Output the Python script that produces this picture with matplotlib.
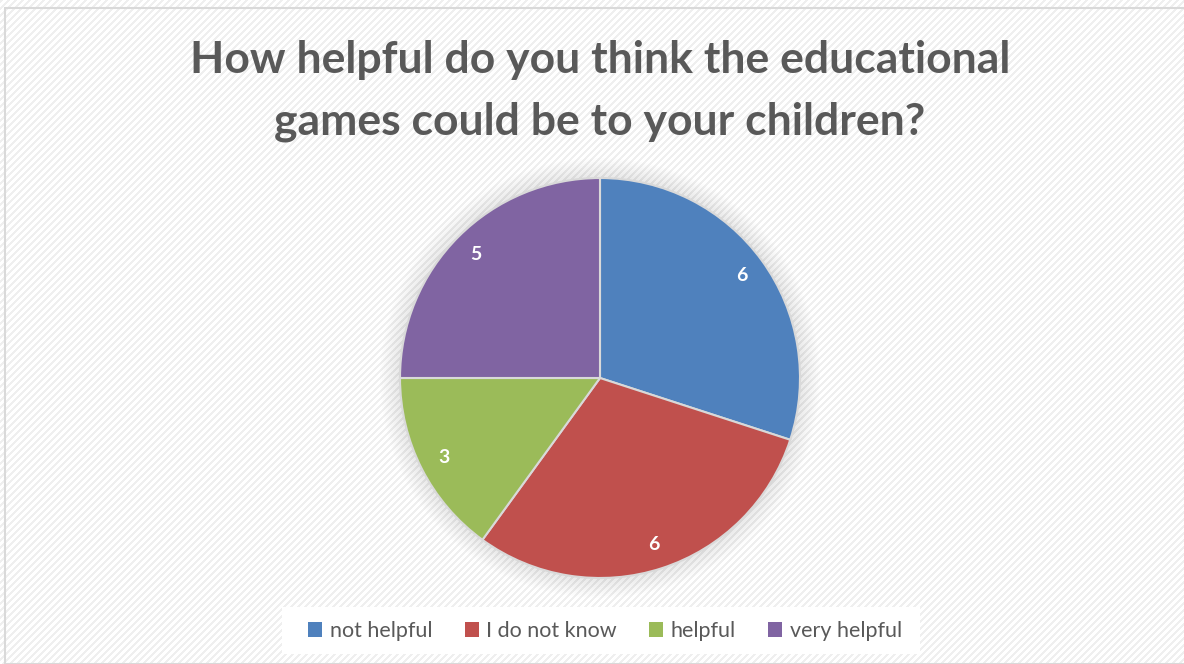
import numpy as np
import matplotlib.pyplot as plt
from matplotlib.patches import Rectangle, Circle

# survey answers
categories = ["not helpful", "I do not know", "helpful", "very helpful"]
counts = [6, 6, 3, 5]
colors = ["#4F81BD", "#C0504D", "#9BBB59", "#8064A2"]
title = "How helpful do you think the educational\ngames could be to your children?"

W, H = 1184, 664
fig = plt.figure(figsize=(W / 100, H / 100), dpi=100)

# diagonal striped backdrop
yy, xx = np.mgrid[0:H, 0:W]
stripes = np.where((xx + yy) % 7 < 3, 0.935, 1.0)
fig.figimage(stripes, xo=0, yo=0, cmap="gray", vmin=0, vmax=1, zorder=-5)

# chart area border
fig.patches.append(Rectangle((5 / W, 0), 1.2, 1 - 8 / H, transform=fig.transFigure,
                             fill=False, edgecolor="#d9d9d9", linewidth=1.5, zorder=-4))

fig.text(600 / W, 1 - 91 / H, title, ha="center", va="center", fontsize=32,
         fontweight="bold", color="#595959", family="Lato", linespacing=1.65)

# pie
cx, cy, r = 600, 378, 200
size = 520
lim = size / 2 / r
ax = fig.add_axes([(cx - size / 2) / W, (H - cy - size / 2) / H, size / W, size / H])
ax.patch.set_visible(False)

# soft shadow around the pie
for k in range(12):
    ax.add_patch(Circle((0.0, 0.0), 1.0 + k * 0.009, color="black",
                        alpha=0.009, linewidth=0, zorder=0))

wedges, texts = ax.pie(counts, colors=colors, startangle=90, counterclock=False,
                       labels=[str(c) for c in counts], labeldistance=0.875,
                       wedgeprops=dict(edgecolor="#d9d9d9", linewidth=1.5),
                       textprops=dict(color="white", fontsize=14, fontweight="bold",
                                      family="Lato"))
for t in texts:
    t.set_ha("center")
    t.set_va("center")
ax.set_xlim(-lim, lim)
ax.set_ylim(-lim, lim)
ax.set_aspect("equal")
ax.axis("off")

# legend box
fig.patches.append(Rectangle((282 / W, 1 - 654 / H), 638 / W, 47 / H,
                             transform=fig.transFigure, facecolor="white",
                             edgecolor="none", zorder=1))
handles = [Rectangle((0, 0), 1, 1, facecolor=c, edgecolor="none") for c in colors]
fig.legend(handles, categories, loc="center", bbox_to_anchor=(605 / W, 1 - 631 / H),
           ncol=4, frameon=False, handlelength=0.65, handleheight=0.65,
           handletextpad=0.35, columnspacing=1.5,
           prop=dict(family="Lato", size=15.5), labelcolor="#595959")

fig.savefig("out.png", dpi=100)
